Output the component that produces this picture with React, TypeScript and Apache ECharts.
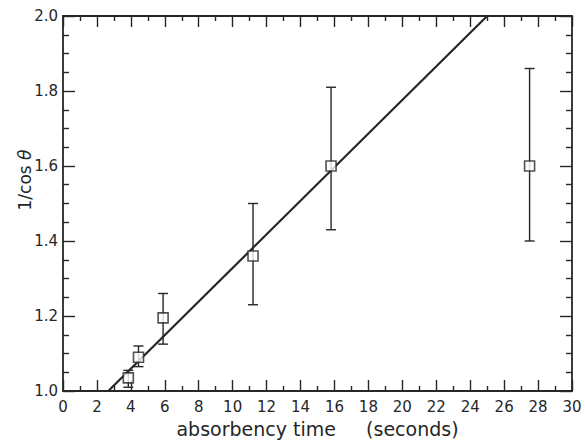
import React, { useEffect, useRef } from "react";
import * as echarts from "echarts";

// Measured absorbency time (s) and 1/cos θ with error-bar limits
const timeSec = [3.85, 4.45, 5.9, 11.2, 15.8, 27.5];
const invCos = [1.035, 1.09, 1.195, 1.36, 1.6, 1.6];
const errLow = [1.01, 1.065, 1.125, 1.23, 1.43, 1.4];
const errHigh = [1.055, 1.12, 1.26, 1.5, 1.81, 1.86];

// Straight-line fit endpoints
const fitX = [2.67, 25];
const fitY = [1.0, 2.0];

const xTicks = { min: 0, max: 30, interval: 2 };
const yTicks = { min: 1.0, max: 2.0, interval: 0.2 };

const xTitle = "absorbency time     (seconds)";
const yTitle = "1/cos {i|θ}";

const INK = "#262626";
const FONT = "DejaVu Sans";

export default function App() {
  const ref = useRef<HTMLDivElement>(null);

  useEffect(() => {
    if (!ref.current) return;
    const chart = echarts.init(ref.current, undefined, { renderer: "svg" });

    const tickStyle = { color: INK, width: 1.4 };
    const axisLine = { show: true, onZero: false, lineStyle: { color: INK, width: 1.8 } };
    const xCommon = {
      type: "value" as const,
      ...xTicks,
      axisLine,
      splitLine: { show: false },
      axisTick: { show: true, inside: true, length: 11, lineStyle: tickStyle },
      minorTick: { show: true, splitNumber: 2, length: 5, lineStyle: tickStyle },
      minorSplitLine: { show: false },
    };
    const yCommon = {
      type: "value" as const,
      ...yTicks,
      axisLine,
      splitLine: { show: false },
      axisTick: { show: true, inside: true, length: 12, lineStyle: tickStyle },
      minorTick: { show: true, splitNumber: 4, length: 6, lineStyle: tickStyle },
      minorSplitLine: { show: false },
    };

    chart.setOption({
      animation: false,
      backgroundColor: "#ffffff",
      grid: { left: 63, right: 13, top: 16, bottom: 53, containLabel: false },
      xAxis: [
        {
          ...xCommon,
          position: "bottom",
          axisLabel: { color: INK, fontFamily: FONT, fontSize: 15, margin: 8 },
          name: xTitle,
          nameLocation: "middle",
          nameGap: 28,
          nameTextStyle: { color: INK, fontFamily: FONT, fontSize: 19 },
        },
        {
          ...xCommon,
          position: "top",
          axisLabel: { show: false },
        },
      ],
      yAxis: [
        {
          ...yCommon,
          position: "left",
          axisLabel: {
            color: INK,
            fontFamily: FONT,
            fontSize: 15,
            margin: 5,
            formatter: (v: number) => v.toFixed(1),
          },
        },
        {
          ...yCommon,
          position: "right",
          axisLabel: { show: false },
        },
      ],
      graphic: [
        {
          type: "text",
          x: 25,
          y: 180,
          rotation: Math.PI / 2,
          style: {
            text: yTitle,
            fill: INK,
            font: `17px "${FONT}"`,
            align: "center",
            verticalAlign: "middle",
            rich: { i: { fontStyle: "italic", fontFamily: FONT, fontSize: 17, fill: INK } },
          },
        },
      ],
      series: [
        {
          type: "line",
          xAxisIndex: 0,
          yAxisIndex: 0,
          data: fitX.map((x, i) => [x, fitY[i]]),
          symbol: "none",
          lineStyle: { color: INK, width: 2.2 },
          z: 2,
        },
        {
          type: "custom",
          xAxisIndex: 0,
          yAxisIndex: 0,
          data: timeSec.map((t, i) => [t, errLow[i], errHigh[i]]),
          encode: { x: 0, y: [1, 2] },
          renderItem: (_params: any, api: any) => {
            const x = api.value(0);
            const top = api.coord([x, api.value(2)]);
            const bot = api.coord([x, api.value(1)]);
            const hw = 5;
            const style = { stroke: INK, lineWidth: 1.4 };
            return {
              type: "group",
              children: [
                { type: "line", shape: { x1: top[0], y1: top[1], x2: bot[0], y2: bot[1] }, style },
                { type: "line", shape: { x1: top[0] - hw, y1: top[1], x2: top[0] + hw, y2: top[1] }, style },
                { type: "line", shape: { x1: bot[0] - hw, y1: bot[1], x2: bot[0] + hw, y2: bot[1] }, style },
              ],
            };
          },
          z: 3,
        },
        {
          type: "scatter",
          xAxisIndex: 0,
          yAxisIndex: 0,
          data: timeSec.map((t, i) => [t, invCos[i]]),
          symbol: "rect",
          symbolSize: 10,
          itemStyle: { color: "#ffffff", borderColor: INK, borderWidth: 1.6 },
          z: 4,
        },
      ],
    });

    return () => chart.dispose();
  }, []);

  return (
    <div
      ref={ref}
      style={{ position: "fixed", left: 0, top: 0, width: 585, height: 444 }}
    />
  );
}
